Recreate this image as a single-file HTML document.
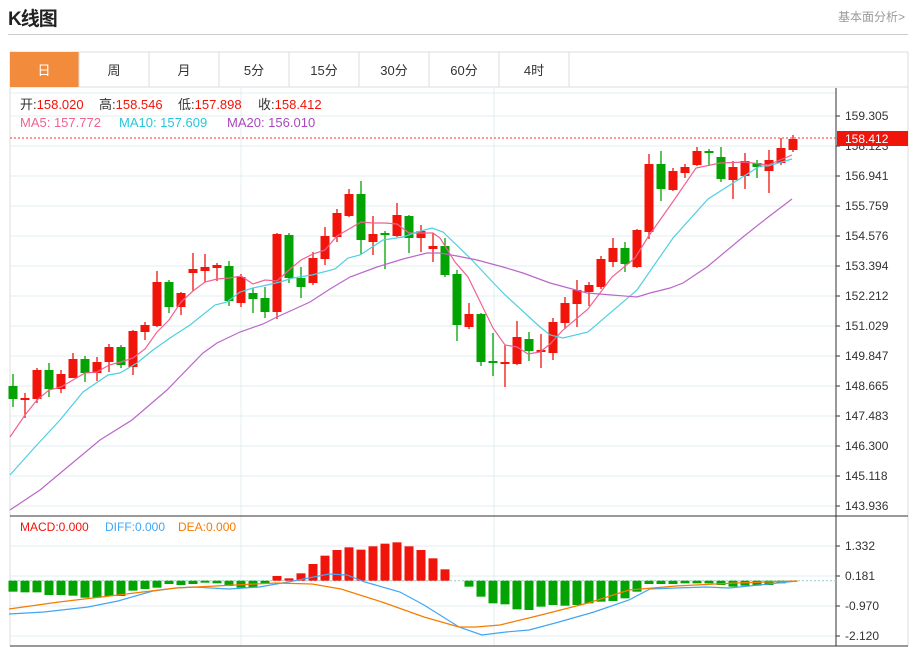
<!DOCTYPE html>
<html><head><meta charset="utf-8">
<style>
body{margin:0;background:#fff;width:916px;height:647px;overflow:hidden;font-family:"Liberation Sans","Noto Sans CJK SC",sans-serif;}
.t{position:absolute;white-space:nowrap}
</style></head><body>
<div class="t" style="left:8px;top:4px;font-size:19px;font-weight:bold;color:#222;letter-spacing:-1px">K线图</div>
<div class="t" style="left:838px;top:8px;font-size:12px;color:#999">基本面分析&gt;</div>
<div style="position:absolute;left:8px;top:34px;width:900px;height:1px;background:#ccc"></div>
<svg width="916" height="647" style="position:absolute;left:0;top:0" id="s" font-family="Liberation Sans, Noto Sans CJK SC, sans-serif">
<rect x="10" y="52" width="898" height="35" fill="#fff" stroke="#ddd"/>
<rect x="10" y="52" width="69" height="35" fill="#f28c3c"/>
<g stroke="#ddd"><line x1="149" y1="52" x2="149" y2="87"/><line x1="219" y1="52" x2="219" y2="87"/><line x1="289" y1="52" x2="289" y2="87"/><line x1="359" y1="52" x2="359" y2="87"/><line x1="429" y1="52" x2="429" y2="87"/><line x1="499" y1="52" x2="499" y2="87"/><line x1="569" y1="52" x2="569" y2="87"/><line x1="79" y1="52" x2="79" y2="87"/></g>
<g font-size="13" text-anchor="middle" fill="#333"><text x="44" y="75" fill="#fff">日</text><text x="114" y="75">周</text><text x="184" y="75">月</text><text x="254" y="75">5分</text><text x="324" y="75">15分</text><text x="394" y="75">30分</text><text x="464" y="75">60分</text><text x="534" y="75">4时</text></g>
<line x1="10" y1="87" x2="10" y2="646" stroke="#ddd"/>
<line x1="908" y1="87" x2="908" y2="646" stroke="#ddd"/>
<g id="grid" stroke="#e3ecf3"></g>
<line x1="836" y1="88" x2="836" y2="646" stroke="#333"/>
<line x1="10" y1="516" x2="908" y2="516" stroke="#333"/>
<line x1="10" y1="646" x2="908" y2="646" stroke="#333"/>
<g font-size="12" fill="#333" id="lab"></g>
<line x1="10" y1="138" x2="836" y2="138" stroke="#f33" stroke-dasharray="2,2"/>
<rect x="837" y="131" width="71" height="15" fill="#f0140a"/>
<text x="845" y="143" font-size="12" fill="#fff">158.412</text>
<g id="c"></g>
<g id="m"></g>
<g font-size="13">
<text x="20" y="109" fill="#333">开:<tspan fill="#f0140a">158.020</tspan></text>
<text x="99" y="109" fill="#333">高:<tspan fill="#f0140a">158.546</tspan></text>
<text x="178" y="109" fill="#333">低:<tspan fill="#f0140a">157.898</tspan></text>
<text x="258" y="109" fill="#333">收:<tspan fill="#f0140a">158.412</tspan></text>
<text x="20" y="127" fill="#f06292">MA5: 157.772</text>
<text x="119" y="127" fill="#26c6da">MA10: 157.609</text>
<text x="227" y="127" fill="#ab47bc">MA20: 156.010</text>
<text x="20" y="531" fill="#f0140a" font-size="12">MACD:0.000</text>
<text x="105" y="531" fill="#42a5f5" font-size="12">DIFF:0.000</text>
<text x="178" y="531" fill="#f57c00" font-size="12">DEA:0.000</text></g>
</svg>
<script>
var NS="http://www.w3.org/2000/svg";function el(p,t,a){var e=document.createElementNS(NS,t);for(var k in a)e.setAttribute(k,a[k]);document.getElementById(p).appendChild(e);return e;}
var labs=["159.305","158.123","156.941","155.759","154.576","153.394","152.212","151.029","149.847","148.665","147.483","146.300","145.118","143.936"];
for(var i=0;i<14;i++){var y=116+30*i;el("grid","line",{x1:10,y1:y,x2:836,y2:y});el("lab","line",{x1:836,y1:y,x2:840,y2:y,stroke:"#333"});el("lab","text",{x:845,y:y+4}).textContent=labs[i];}
el("grid","line",{x1:10,y1:93,x2:836,y2:93});
[241,494].forEach(function(x){el("grid","line",{x1:x,y1:88,x2:x,y2:646});});
var ml=["1.332","0.181","-0.970","-2.120"];for(i=0;i<4;i++){var y=546+30*i;el("grid","line",{x1:10,y1:y,x2:836,y2:y});el("lab","line",{x1:836,y1:y,x2:840,y2:y,stroke:"#333"});el("lab","text",{x:845,y:y+4}).textContent=ml[i];}
var C=[["g",386,399,374,407],["r",398,400,393,418],["r",370,399,368,403],["g",370,389,363,397],["r",374,389,370,393],["r",359,378,353,378],["g",359,373,356,382],["r",362,373,357,381],["r",347,362,344,372],["g",347,365,345,368],["r",331,367,330,375],["r",325,332,322,340],["r",282,326,271,327],["g",282,307,280,313],["r",293,307,292,315],["r",269,273,253,291],["r",267,271,254,282],["r",265,268,263,281],["g",266,301,261,306],["r",277,303,274,307],["g",293,299,288,313],["g",298,312,287,318],["r",234,312,233,319],["g",235,278,233,283],["g",278,287,267,298],["r",258,283,252,285],["r",236,259,227,265],["r",213,237,209,242],["r",194,216,189,217],["g",194,240,181,254],["r",234,242,216,255],["g",233,235,231,269],["r",215,236,203,237],["g",216,238,215,253],["r",231,238,225,252],["r",246,249,233,262],["g",246,275,238,277],["g",274,325,270,341],["r",314,327,303,329],["g",314,362,313,366],["g",361,363,333,376],["r",362,364,345,387],["r",337,364,321,365],["g",339,351,332,361],["r",350,352,334,368],["r",322,353,318,360],["r",303,323,297,329],["r",290,304,280,327],["r",285,292,282,306],["r",259,287,256,289],["r",248,262,238,267],["g",248,264,242,272],["r",230,267,229,268],["r",164,232,154,239],["g",164,189,151,201],["r",171,190,168,191],["r",167,173,164,178],["r",151,165,147,166],["g",151,153,149,166],["g",157,179,147,182],["r",167,180,161,199],["r",161,176,153,189],["g",163,167,160,178],["r",160,171,150,193],["r",148,163,138,165],["r",139,150,135,152]];
C.forEach(function(c,i){var x=13+12*i,col=c[0]=="r"?"#f0140a":"#02a302";el("c","line",{x1:x,y1:c[3],x2:x,y2:c[4],stroke:col,"stroke-width":1.3});el("c","rect",{x:x-4.5,y:c[1],width:9,height:Math.max(1.5,c[2]-c[1]),fill:col});});
function pl(pts,col){el("m","polyline",{points:pts,fill:"none",stroke:col,"stroke-width":1.2});}
pl("10,437 25,415 37,400 49,390 61,387 73,380 85,373 97,372 109,365 121,362 133,358 145,349 157,332 169,320 181,302 193,291 205,282 217,279 229,278 241,276 253,284 265,280 277,281 289,270 301,260 313,254 325,250 337,236 349,229 361,222 373,223 385,223 397,224 409,233 421,233 433,233 440,238 455,262 468,277 493,328 505,345 517,347 528,354 540,352 550,344 563,330 588,309 612,277 635,258 648,237 672,203 696,168 720,163 745,162 768,165 792,155","#f06292");
pl("10,475 35,447 60,420 83,392 108,375 120,373 137,363 153,350 170,338 190,325 215,305 227,302 240,292 253,288 267,285 280,282 293,278 312,275 335,269 348,258 360,255 383,240 403,237 417,232 432,228 443,232 470,258 503,293 540,327 550,335 563,338 588,332 637,290 673,238 708,199 733,183 760,166 768,166 792,159","#4dd0e1");
pl("10,510 40,490 70,465 100,440 132,420 167,390 203,353 217,343 240,332 263,324 277,317 310,302 330,289 350,277 377,267 403,259 427,253 440,253 457,256 477,260 503,267 523,273 550,283 587,293 637,297 650,293 670,288 683,283 707,267 743,237 767,218 792,199","#ba68c8");
el("m","line",{x1:10,y1:580.7,x2:836,y2:580.7,stroke:"#9cc","stroke-dasharray":"2,2"});
var H=[230,232,232,240,240,242,248,248,243,243,227,222,218,207,210,207,203,205,213,218,218,205,183,190,175,147,122,105,97,104,94,86,82,94,105,130,163,197,215,245,265,268,283,285,275,270,272,270,265,260,258,250,230,207,207,207,205,205,205,210,215,212,212,210,205,200];
H.forEach(function(h,i){var x=13+12*i,y=515+h/3,z=580.7;if(Math.abs(y-z)<0.5)return;var col=y<z?"#f0140a":"#02a302";el("m","rect",{x:x-4.5,y:Math.min(y,z),width:9,height:Math.abs(y-z),fill:col});});
pl("9,614 44,612 88,607 118,601 153,591 176,588 194,587 229,589 259,587 288,582 329,574 347,575 365,582 400,592 424,605 459,627 482,635 506,632 529,630 559,622 594,612 629,600 650,589 676,588 706,587 729,588 759,585 797,581","#42a5f5");
pl("9,609 59,602 118,595 176,588 235,585 276,583 312,584 341,589 382,602 424,617 459,627 476,627 500,625 541,615 588,603 629,590 676,586 735,583 797,581","#f57c00");
</script>
</body></html>
